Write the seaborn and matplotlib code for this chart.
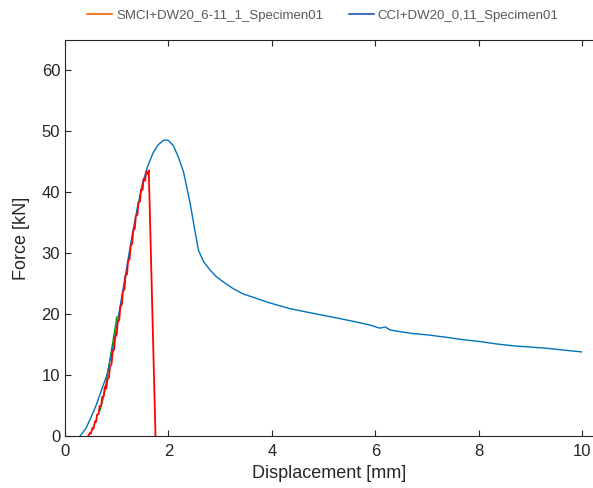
import numpy as np
import pandas as pd
import seaborn as sns
import matplotlib.pyplot as plt
from matplotlib.lines import Line2D

# CCI+DW20_0,11_Specimen01 (blue)
cci_x = [0.29, 0.40, 0.50, 0.60, 0.70, 0.81, 0.95, 1.10, 1.20, 1.30, 1.40, 1.50, 1.60, 1.70,
         1.80, 1.90, 1.95, 2.00, 2.10, 2.20, 2.29, 2.35, 2.42, 2.51, 2.58, 2.68, 2.80, 2.92,
         3.06, 3.25, 3.45, 3.70, 3.90, 4.10, 4.35, 4.70, 5.00, 5.30, 5.64, 5.90, 6.09, 6.19,
         6.29, 6.50, 6.74, 7.00, 7.38, 7.70, 8.03, 8.35, 8.67, 9.00, 9.32, 9.65, 9.99]
cci_y = [0.0, 1.2, 3.0, 5.0, 7.4, 10.0, 15.5, 23.0, 28.0, 33.0, 37.5, 41.5, 44.3, 46.4,
         47.8, 48.5, 48.6, 48.5, 47.6, 45.6, 43.4, 41.0, 38.2, 33.8, 30.5, 28.6, 27.3, 26.2,
         25.3, 24.2, 23.3, 22.6, 22.0, 21.5, 20.9, 20.3, 19.8, 19.3, 18.7, 18.2, 17.7, 17.9,
         17.4, 17.1, 16.8, 16.6, 16.2, 15.8, 15.5, 15.1, 14.8, 14.6, 14.4, 14.1, 13.8]

# SMCI+DW20_6-11_1_Specimen01 (drawn red)
smci_x = [0.45, 0.48, 0.50, 0.53, 0.55, 0.58, 0.60, 0.62, 0.65, 0.67, 0.70, 0.72, 0.75, 0.77,
          0.80, 0.82, 0.85, 0.87, 0.90, 0.92, 0.95, 0.97, 1.00, 1.02, 1.05, 1.07, 1.10, 1.12,
          1.15, 1.17, 1.20, 1.22, 1.25, 1.27, 1.30, 1.32, 1.35, 1.37, 1.40, 1.42, 1.45, 1.47,
          1.50, 1.52, 1.55, 1.57, 1.60, 1.62, 1.75]
smci_y = [0.0, 0.5, 0.4, 1.3, 1.2, 2.4, 2.3, 3.5, 3.6, 4.9, 5.0, 6.4, 6.6, 8.1,
          7.8, 9.3, 9.6, 11.4, 11.8, 13.8, 14.2, 16.2, 16.7, 18.7, 19.1, 21.2, 21.6, 23.7,
          24.1, 26.3, 26.6, 28.7, 29.1, 31.2, 31.6, 33.8, 34.0, 36.1, 36.3, 38.3, 38.5, 40.4,
          40.4, 42.2, 41.9, 43.4, 43.0, 43.6, 0.0]

# small green bits
grn_x = [0.68, 0.72, 0.77, np.nan, 0.985, 1.0]
grn_y = [4.2, 5.6, 7.4, np.nan, 18.6, 19.6]

labels = ['SMCI+DW20_6-11_1_Specimen01', 'CCI+DW20_0,11_Specimen01']

sns.set_style('ticks')
plt.rcParams['font.family'] = ['Liberation Sans', 'DejaVu Sans']
dark = '#262626'

fig = plt.figure(figsize=(5.93, 4.88), dpi=100)
ax = fig.add_axes([65/593, 52/488, 1 - 65/593, (436-40)/488])

sns.lineplot(x=grn_x, y=grn_y, ax=ax, color='#00a000', lw=1.0, sort=False, estimator=None)
sns.lineplot(x=cci_x, y=cci_y, ax=ax, color='#0072BD', lw=1.0, sort=False, estimator=None)
sns.lineplot(x=smci_x, y=smci_y, ax=ax, color='#ff0000', lw=1.3, sort=False, estimator=None)

ax.set_xlim(0, 10.21)
ax.set_ylim(0, 65)
ax.set_xticks([0, 2, 4, 6, 8, 10])
ax.set_yticks([0, 10, 20, 30, 40, 50, 60])
ax.tick_params(direction='in', length=4, width=0.8, colors=dark, labelsize=12, top=True,
               labeltop=False)
ax.tick_params(axis='x', pad=6)
for s in ['left', 'bottom', 'top']:
    ax.spines[s].set_color(dark)
    ax.spines[s].set_linewidth(0.8)
ax.spines['right'].set_visible(False)
ax.set_xlabel('Displacement [mm]', fontsize=13, color=dark, labelpad=4)
ax.set_ylabel('Force [kN]', fontsize=13, color=dark, labelpad=8)

handles = [Line2D([], [], color='#ED7D31', lw=1.5), Line2D([], [], color='#4472C4', lw=1.5)]
fig.legend(handles, labels, loc='center left', bbox_to_anchor=(82/593, 1 - 16/488), ncol=2,
           frameon=False, handlelength=1.9, handletextpad=0.3, columnspacing=1.9,
           borderaxespad=0, fontsize=9.5, labelcolor='#595959')

fig.savefig('out.png', dpi=100)
